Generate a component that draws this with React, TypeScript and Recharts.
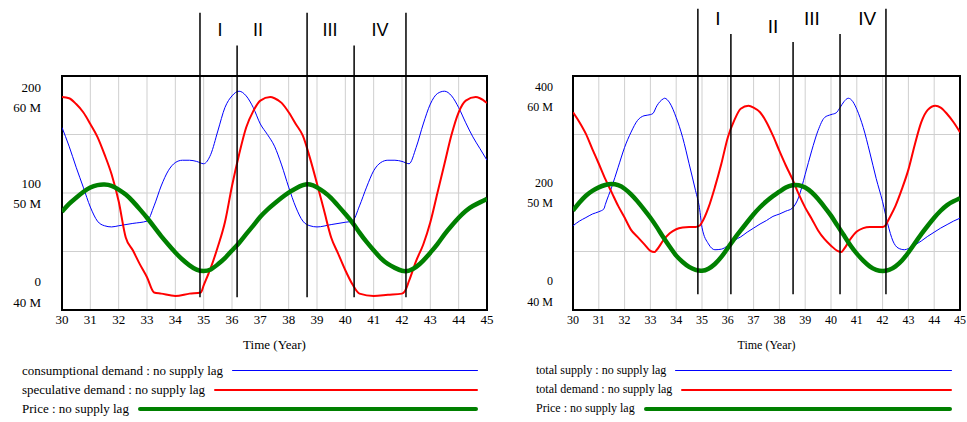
import React from 'react';
import {
  ComposedChart, Line, XAxis, YAxis, CartesianGrid, ReferenceLine, ReferenceArea, ReferenceDot,
} from 'recharts';

// ---------- shared ----------
const yearTicks = [30, 31, 32, 33, 34, 35, 36, 37, 38, 39, 40, 41, 42, 43, 44, 45];
const priceTickLabels = ['40 M', '50 M', '60 M'];
const phaseNames = ['I', 'II', 'III', 'IV'];

// ---------- left panel ----------
const leftScaleTicks = [0, 100, 200];
const leftScaleLabels = ['0', '100', '200'];
const leftGridTicks = [0, 50, 100, 150, 200];

const consDemandT = [30, 30.25, 30.5, 30.75, 31, 31.25, 31.5, 31.75, 32, 32.5, 33, 33.25, 33.5, 33.75, 34, 34.25, 34.5, 34.75, 35, 35.25, 35.5, 35.75, 36, 36.25, 36.5, 36.75, 37, 37.25, 37.5, 37.75, 38, 38.25, 38.5, 38.75, 39, 39.5, 40, 40.25, 40.5, 40.75, 41, 41.25, 41.5, 41.75, 42, 42.25, 42.5, 42.75, 43, 43.25, 43.5, 43.75, 44, 44.25, 44.5, 44.75, 45];
const consDemandV = [156, 140, 122, 105, 88, 76, 72, 71, 72, 74, 76, 89, 106, 119, 126, 128, 128, 127, 125, 133, 153, 173, 183, 187, 183, 173, 159, 150, 140, 124, 105, 88, 76, 72, 71, 73, 75, 76, 89, 105, 119, 126, 128, 128, 127, 125, 139, 159, 176, 185, 187, 183, 173, 160, 148, 138, 128];

const specDemandT = [30, 30.25, 30.5, 30.75, 31, 31.25, 31.5, 31.75, 32, 32.25, 32.5, 32.75, 33, 33.25, 33.5, 34, 34.5, 34.9, 35, 35.25, 35.5, 35.75, 36, 36.25, 36.5, 36.75, 37, 37.35, 37.5, 37.75, 38, 38.25, 38.5, 38.75, 39, 39.25, 39.5, 39.75, 40, 40.25, 40.5, 41, 41.5, 42, 42.1, 42.25, 42.5, 42.75, 43, 43.25, 43.5, 43.75, 44, 44.25, 44.6, 44.75, 45];
const specDemandV = [182, 181, 176, 169, 159, 148, 133, 116, 93, 62, 51, 39, 28, 15, 14, 12, 14, 15, 21, 36, 54, 75, 106, 133, 156, 170, 179, 182, 181, 177, 169, 159, 149, 130, 108, 85, 62, 48, 34, 22, 14, 12, 13, 14, 16, 25, 42, 56, 75, 100, 125, 150, 169, 179, 182, 181, 177];

const leftPriceT = [30, 30.25, 30.5, 30.75, 31, 31.25, 31.5, 31.75, 32, 32.25, 32.5, 32.75, 33, 33.25, 33.5, 33.75, 34, 34.25, 34.5, 34.75, 35, 35.25, 35.5, 35.75, 36, 36.25, 36.5, 36.75, 37, 37.25, 37.5, 37.75, 38, 38.25, 38.5, 38.75, 39, 39.25, 39.5, 39.75, 40, 40.25, 40.5, 40.75, 41, 41.25, 41.5, 41.75, 42, 42.25, 42.5, 42.75, 43, 43.25, 43.5, 43.75, 44, 44.25, 44.5, 44.75, 45];
const leftPriceV = [48.4, 49.1, 49.6, 50.1, 50.5, 50.7, 50.74, 50.66, 50.3, 49.9, 49.3, 48.6, 47.9, 47.1, 46.3, 45.6, 44.9, 44.3, 43.8, 43.4, 43.3, 43.4, 43.9, 44.4, 45.1, 45.7, 46.5, 47.2, 48.0, 48.6, 49.1, 49.6, 50.05, 50.4, 50.7, 50.8, 50.5, 50.1, 49.6, 48.9, 48.2, 47.5, 46.6, 45.8, 45.1, 44.4, 43.9, 43.6, 43.3, 43.3, 43.65, 44.2, 44.9, 45.6, 46.5, 47.2, 47.9, 48.5, 48.9, 49.2, 49.5];

const leftPhaseYears = [34.87, 36.18, 38.65, 40.31, 42.14];
const leftPhaseTops = [254, 226, 254, 226, 254];
const leftPhaseBottom = 11;
const leftNameYears = [35.58, 36.92, 39.46, 41.22];
const leftNameLevels = [239, 239, 239, 239];

// ---------- right panel ----------
const rightScaleTicks = [0, 200, 400];
const rightScaleLabels = ['0', '200', '400'];
const rightGridTicks = [0, 100, 200, 300, 400];

const totSupplyT = [30, 30.25, 30.5, 30.75, 31, 31.2, 31.25, 31.5, 31.75, 32, 32.25, 32.5, 32.75, 33, 33.1, 33.25, 33.5, 33.55, 33.75, 34, 34.25, 34.5, 34.75, 34.9, 35, 35.25, 35.5, 35.75, 36, 36.25, 36.5, 36.75, 37, 37.25, 37.5, 37.75, 38, 38.25, 38.5, 38.75, 39, 39.25, 39.5, 39.75, 40, 40.2, 40.35, 40.5, 40.67, 40.85, 41, 41.25, 41.5, 41.75, 42, 42.2, 42.4, 42.6, 42.85, 43, 43.25, 43.5, 43.75, 44, 44.25, 44.5, 44.75, 45];
const totSupplyV = [144, 152, 158, 164, 168, 173, 180, 210, 244, 278, 304, 324, 332, 334, 336, 349, 361, 362, 354, 329, 295, 250, 204, 175, 141, 113, 103, 104, 110, 119, 125, 133, 140, 147, 153, 160, 164, 169, 174, 193, 232, 272, 307, 329, 334, 337, 346, 356, 362, 356, 343, 312, 270, 225, 185, 147, 118, 106, 103, 105, 111, 118, 126, 133, 140, 146, 152, 157];

const totDemandT = [30, 30.25, 30.5, 30.75, 31, 31.25, 31.5, 31.75, 32, 32.25, 32.5, 32.75, 33, 33.15, 33.25, 33.5, 33.75, 34, 34.25, 34.5, 34.75, 34.9, 35, 35.25, 35.5, 35.75, 36, 36.25, 36.5, 36.8, 37, 37.25, 37.5, 37.75, 38, 38.25, 38.5, 38.75, 39, 39.25, 39.5, 39.75, 40, 40.25, 40.4, 40.5, 40.75, 41, 41.25, 41.5, 41.75, 42, 42.1, 42.25, 42.5, 42.75, 43, 43.25, 43.5, 43.75, 44.05, 44.25, 44.5, 44.75, 45];
const totDemandV = [338, 321, 301, 275, 250, 224, 201, 178, 158, 137, 125, 113, 101, 99, 103, 119, 131, 138, 141, 142, 142, 144, 150, 175, 210, 250, 295, 324, 344, 349, 346, 338, 321, 298, 272, 247, 224, 198, 175, 156, 136, 121, 110, 101, 99, 104, 121, 134, 140, 142, 142, 142, 144, 156, 178, 207, 240, 283, 321, 342, 349, 346, 335, 321, 304];

const rightPriceT = [30, 30.25, 30.5, 30.75, 31, 31.25, 31.5, 31.75, 32, 32.25, 32.5, 32.75, 33, 33.25, 33.5, 33.75, 34, 34.25, 34.5, 34.75, 35, 35.25, 35.5, 35.75, 36, 36.25, 36.5, 36.75, 37, 37.25, 37.5, 37.75, 38, 38.25, 38.5, 38.75, 39, 39.25, 39.5, 39.75, 40, 40.25, 40.5, 40.75, 41, 41.25, 41.5, 41.75, 42, 42.25, 42.5, 42.75, 43, 43.25, 43.5, 43.75, 44, 44.25, 44.5, 44.75, 45];
const rightPriceV = [48.5, 49.2, 49.8, 50.2, 50.5, 50.7, 50.8, 50.7, 50.4, 49.9, 49.3, 48.6, 47.9, 47.1, 46.2, 45.4, 44.6, 44.1, 43.65, 43.4, 43.3, 43.5, 43.9, 44.5, 45.3, 46.1, 46.8, 47.5, 48.2, 48.8, 49.3, 49.75, 50.1, 50.5, 50.7, 50.7, 50.5, 50.1, 49.5, 48.8, 48.1, 47.2, 46.4, 45.5, 44.8, 44.2, 43.7, 43.4, 43.3, 43.4, 43.7, 44.2, 44.9, 45.7, 46.5, 47.2, 47.9, 48.5, 49.0, 49.3, 49.55];

const rightPhaseYears = [34.84, 36.12, 38.53, 40.35, 42.13];
const rightPhaseTops = [515, 472, 458, 472, 515];
const rightPhaseBottom = 27;
const rightNameYears = [35.62, 37.75, 39.26, 41.4];
const rightNameLevels = [499, 484, 499, 499];

// ---------- legends ----------
const leftLegendNames = ['consumptional demand : no supply lag', 'speculative demand : no supply lag', 'Price : no supply lag'];
const rightLegendNames = ['total supply : no supply lag', 'total demand : no supply lag', 'Price : no supply lag'];

const BLUE = '#0000ff';
const RED = '#ff0000';
const GREEN = '#008000';
const SERIF = '"Liberation Serif", "Times New Roman", serif';
const SANS = '"Liberation Sans", Arial, sans-serif';

const toRows = (t: number[], v: number[]) => t.map((x, i) => ({ t: x, v: v[i] }));

function makeYTick(labelTicks: number[], labels: string[], fontSize: number) {
  const max = labelTicks[labelTicks.length - 1];
  const min = labelTicks[0];
  return (props: any) => {
    const { x, y, payload } = props;
    const idx = labelTicks.indexOf(payload.value);
    if (idx < 0) return <g />;
    let d1 = -10;
    let d2 = 10;
    if (payload.value === max) { d1 = 11; d2 = 31; }
    if (payload.value === min) { d1 = -29; d2 = -8; }
    return (
      <g>
        <text x={x} y={y + d1} textAnchor="end" dominantBaseline="central" fontSize={fontSize} fontFamily={SERIF} fill="#000">{labels[idx]}</text>
        <text x={x} y={y + d2} textAnchor="end" dominantBaseline="central" fontSize={fontSize} fontFamily={SERIF} fill="#000">{priceTickLabels[idx]}</text>
      </g>
    );
  };
}

function Panel(props: any) {
  const {
    width, yWidth, labelGap, rightMargin, domainMax, gridTicks, labelTicks, labels, fontSize,
    blue, red, green, phaseYears, phaseTops, phaseBottom, nameYears, nameLevels, nameSize,
  } = props;
  const YTick = makeYTick(labelTicks, labels, fontSize);
  return (
    <ComposedChart width={width} height={355} margin={{ top: 76, right: rightMargin, bottom: 0, left: 0 }}>
      <CartesianGrid yAxisId="d" stroke="#cfcfcf" strokeWidth={1} />
      <XAxis
        type="number"
        dataKey="t"
        domain={[30, 45]}
        ticks={yearTicks}
        interval={0}
        allowDataOverflow
        tickLine={false}
        axisLine={false}
        tickSize={3}
        height={45}
        tick={{ fontSize, fill: '#000', fontFamily: SERIF }}
        label={{ value: 'Time (Year)', position: 'insideBottom', offset: 6, fontSize, fill: '#000', fontFamily: SERIF }}
      />
      <YAxis
        yAxisId="d"
        domain={[0, domainMax]}
        ticks={gridTicks}
        interval={0}
        allowDataOverflow
        width={yWidth}
        tickLine={false}
        axisLine={false}
        tickSize={0}
        tickMargin={labelGap}
        tick={YTick}
      />
      <YAxis yAxisId="p" hide domain={[40, 60]} allowDataOverflow />
      <Line yAxisId="d" data={blue} dataKey="v" type="monotone" stroke={BLUE} strokeWidth={1} dot={false} isAnimationActive={false} />
      <Line yAxisId="d" data={red} dataKey="v" type="monotone" stroke={RED} strokeWidth={2} dot={false} isAnimationActive={false} />
      <Line yAxisId="p" data={green} dataKey="v" type="basis" stroke={GREEN} strokeWidth={4.5} dot={false} isAnimationActive={false} />
      <ReferenceArea yAxisId="d" x1={30} x2={45} y1={0} y2={domainMax} fill="none" stroke="#000" strokeWidth={2} ifOverflow="visible" />
      {phaseYears.map((yr: number, i: number) => (
        <ReferenceLine
          key={'pl' + i}
          yAxisId="d"
          segment={[{ x: yr, y: phaseBottom }, { x: yr, y: phaseTops[i] }]}
          stroke="#000"
          strokeWidth={1.5}
          ifOverflow="visible"
        />
      ))}
      {nameYears.map((yr: number, i: number) => (
        <ReferenceDot
          key={'pn' + i}
          yAxisId="d"
          x={yr}
          y={nameLevels[i]}
          r={0}
          ifOverflow="visible"
          shape={(p: any) => (
            <text x={p.cx} y={p.cy} textAnchor="middle" dominantBaseline="central" fontSize={nameSize} fontFamily={SANS} fill="#000">
              {phaseNames[i]}
            </text>
          )}
        />
      ))}
    </ComposedChart>
  );
}

function LegendBlock(props: any) {
  const { left, width, fontSize, names } = props;
  const colors = [BLUE, RED, GREEN];
  const thick = [1, 2, 4];
  return (
    <div style={{ position: 'absolute', left, top: 361, width }}>
      {names.map((n: string, i: number) => (
        <div key={n} style={{ display: 'flex', alignItems: 'center', height: 19 }}>
          <span style={{ fontFamily: SERIF, fontSize, whiteSpace: 'nowrap', color: '#000', lineHeight: '19px' }}>{n}</span>
          <div style={{ flex: 1, marginLeft: 9, height: thick[i], background: colors[i], borderRadius: thick[i] / 2 }} />
        </div>
      ))}
    </div>
  );
}

export default function App() {
  return (
    <div style={{ position: 'absolute', left: 0, top: 0, width: 967, height: 422, background: '#fff', overflow: 'hidden' }}>
      <div style={{ position: 'absolute', left: 0, top: 0 }}>
        <Panel
          width={500}
          yWidth={62}
          labelGap={21}
          rightMargin={13}
          domainMax={200}
          gridTicks={leftGridTicks}
          labelTicks={leftScaleTicks}
          labels={leftScaleLabels}
          fontSize={13}
          blue={toRows(consDemandT, consDemandV)}
          red={toRows(specDemandT, specDemandV)}
          green={toRows(leftPriceT, leftPriceV)}
          phaseYears={leftPhaseYears}
          phaseTops={leftPhaseTops}
          phaseBottom={leftPhaseBottom}
          nameYears={leftNameYears}
          nameLevels={leftNameLevels}
          nameSize={18}
        />
      </div>
      <div style={{ position: 'absolute', left: 490, top: 0 }}>
        <Panel
          width={477}
          yWidth={83}
          labelGap={20}
          rightMargin={7}
          domainMax={400}
          gridTicks={rightGridTicks}
          labelTicks={rightScaleTicks}
          labels={rightScaleLabels}
          fontSize={12}
          blue={toRows(totSupplyT, totSupplyV)}
          red={toRows(totDemandT, totDemandV)}
          green={toRows(rightPriceT, rightPriceV)}
          phaseYears={rightPhaseYears}
          phaseTops={rightPhaseTops}
          phaseBottom={rightPhaseBottom}
          nameYears={rightNameYears}
          nameLevels={rightNameLevels}
          nameSize={19}
        />
      </div>
      <LegendBlock left={22} width={456} fontSize={13} names={leftLegendNames} />
      <LegendBlock left={536} width={416} fontSize={12} names={rightLegendNames} />
    </div>
  );
}
